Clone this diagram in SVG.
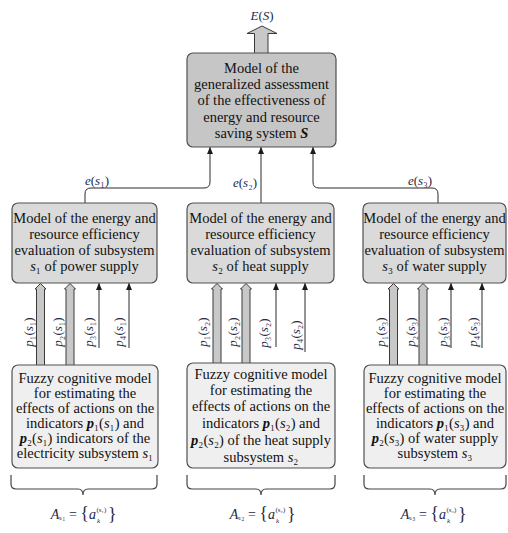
<svg xmlns="http://www.w3.org/2000/svg" width="508" height="533" viewBox="0 0 508 533">
<style>
.box{stroke:#505050;stroke-width:1.2}
.top{fill:#c6c6c6}
.mid{fill:#dadada}
.bot{fill:#efefef}
.t{font-family:"Liberation Serif","Times New Roman",serif;font-size:14.5px;fill:#111;text-anchor:middle}
.m{font-family:"Liberation Serif","Times New Roman",serif;font-size:13px;fill:#1f2a44;text-anchor:middle}
.f{font-family:"Liberation Serif","Times New Roman",serif;font-size:14px;fill:#1f2a44}
.i{font-style:italic}
.b{font-weight:bold}
.ln{fill:none;stroke:#2a2a2a;stroke-width:1}
.hol{fill:#c8c8c8;stroke:#3a3a3a;stroke-width:1}
.br{fill:none;stroke:#444;stroke-width:1.2}
</style>
<defs>
<marker id="ah" markerWidth="8" markerHeight="8" refX="7" refY="4" orient="auto" markerUnits="userSpaceOnUse">
<path d="M0,1 L7,4 L0,7 Z" fill="#1a1a1a"/>
</marker>
</defs>

<g id="connectors">
<path class="hol" d="M254.5,53 V33.5 H247 L262,26 L277,33.5 H268 V53" fill="#d6d6d6"/>
<path class="ln" marker-end="url(#ah)" d="M85,203 V194 Q85,188 91,188 H204 Q210,188 210,182 V147"/>
<path class="ln" marker-end="url(#ah)" d="M261,203 V147"/>
<path class="ln" marker-end="url(#ah)" d="M438,203 V194 Q438,188 432,188 H319 Q313,188 313,182 V147"/>
<path class="hol" d="M36.5,365 V289 H35 L40.5,283.5 L46,289 H44.5 V365"/>
<path class="hol" d="M66,365 V289 H64.5 L70,283.5 L75.5,289 H74 V365"/>
<path class="ln" marker-end="url(#ah)" d="M99,348 V283"/>
<path class="ln" marker-end="url(#ah)" d="M129,348 V283"/>
<path class="hol" d="M213,363 V289 H211.5 L217,283.5 L222.5,289 H221 V363"/>
<path class="hol" d="M242,363 V289 H240.5 L246,283.5 L251.5,289 H250 V363"/>
<path class="ln" marker-end="url(#ah)" d="M276,347 V283"/>
<path class="ln" marker-end="url(#ah)" d="M305,352 V283"/>
<path class="hol" d="M389.5,365 V289 H388 L393.5,283.5 L399,289 H397.5 V365"/>
<path class="hol" d="M419,365 V289 H417.5 L423,283.5 L428.5,289 H427 V365"/>
<path class="ln" marker-end="url(#ah)" d="M451,348 V283"/>
<path class="ln" marker-end="url(#ah)" d="M482,348 V283"/>
</g>

<g id="labels">
<text class="m" x="262" y="20" font-size="14"><tspan class="i">E</tspan>(<tspan class="i">S</tspan>)</text>
<text class="m" x="97" y="185"><tspan class="i">e</tspan>(<tspan class="i">s</tspan>₁)</text>
<text class="m" x="245" y="187"><tspan class="i">e</tspan>(<tspan class="i">s</tspan>₂)</text>
<text class="m" x="420" y="185"><tspan class="i">e</tspan>(<tspan class="i">s</tspan>₃)</text>

<g class="m">
<text transform="translate(28,332) rotate(-90)" y="4.5"><tspan class="i">p</tspan>₁(<tspan class="i">s</tspan>₁)</text>
<text transform="translate(57,332) rotate(-90)" y="4.5"><tspan class="i">p</tspan>₂(<tspan class="i">s</tspan>₁)</text>
<text transform="translate(88,332) rotate(-90)" y="4.5"><tspan class="i">p</tspan>₃(<tspan class="i">s</tspan>₁)</text>
<text transform="translate(118,332) rotate(-90)" y="4.5"><tspan class="i">p</tspan>₄(<tspan class="i">s</tspan>₁)</text>
<text transform="translate(202,332) rotate(-90)" y="4.5"><tspan class="i">p</tspan>₁(<tspan class="i">s</tspan>₂)</text>
<text transform="translate(232,332) rotate(-90)" y="4.5"><tspan class="i">p</tspan>₂(<tspan class="i">s</tspan>₂)</text>
<text transform="translate(263,333) rotate(-90)" y="4.5"><tspan class="i">p</tspan>₃(<tspan class="i">s</tspan>₂)</text>
<text transform="translate(295,335) rotate(-90)" y="4.5"><tspan class="i">p</tspan>₄(<tspan class="i">s</tspan>₂)</text>
<text transform="translate(380,332) rotate(-90)" y="4.5"><tspan class="i">p</tspan>₁(<tspan class="i">s</tspan>₃)</text>
<text transform="translate(410,332) rotate(-90)" y="4.5"><tspan class="i">p</tspan>₂(<tspan class="i">s</tspan>₃)</text>
<text transform="translate(442,332) rotate(-90)" y="4.5"><tspan class="i">p</tspan>₃(<tspan class="i">s</tspan>₃)</text>
<text transform="translate(472,332) rotate(-90)" y="4.5"><tspan class="i">p</tspan>₄(<tspan class="i">s</tspan>₃)</text>
</g>
</g>

<g id="node-S">
<rect class="box top" x="187" y="53" width="149" height="94" rx="6"/>
<text class="t" x="261.5" y="73">Model of the</text>
<text class="t" x="261.5" y="89">generalized assessment</text>
<text class="t" x="261.5" y="105">of the effectiveness of</text>
<text class="t" x="261.5" y="122">energy and resource</text>
<text class="t" x="261.5" y="138">saving system <tspan class="i b">S</tspan></text>
</g>

<g id="node-s1">
<rect class="box mid" x="12" y="203" width="145" height="80" rx="6"/>
<text class="t" x="84.5" y="223">Model of the energy and</text>
<text class="t" x="84.5" y="239">resource efficiency</text>
<text class="t" x="84.5" y="255">evaluation of subsystem</text>
<text class="t" x="84.5" y="271"><tspan class="i">s</tspan>₁ of power supply</text>
</g>

<g id="node-s2">
<rect class="box mid" x="187" y="203" width="147" height="80" rx="6"/>
<text class="t" x="260.5" y="223">Model of the energy and</text>
<text class="t" x="260.5" y="239">resource efficiency</text>
<text class="t" x="260.5" y="255">evaluation of subsystem</text>
<text class="t" x="260.5" y="271"><tspan class="i">s</tspan>₂ of heat supply</text>
</g>

<g id="node-s3">
<rect class="box mid" x="363" y="203" width="143" height="80" rx="6"/>
<text class="t" x="434.5" y="223">Model of the energy and</text>
<text class="t" x="434.5" y="239">resource efficiency</text>
<text class="t" x="434.5" y="255">evaluation of subsystem</text>
<text class="t" x="434.5" y="271"><tspan class="i">s</tspan>₃ of water supply</text>
</g>

<g id="node-f1">
<rect class="box bot" x="12" y="365" width="146" height="103" rx="6"/>
<text class="t" x="85" y="383">Fuzzy cognitive model</text>
<text class="t" x="85" y="398">for estimating the</text>
<text class="t" x="85" y="413">effects of actions on the</text>
<text class="t" x="85" y="428">indicators <tspan class="i b">p</tspan>₁(<tspan class="i">s</tspan>₁)  and</text>
<text class="t" x="85" y="443"><tspan class="i b">p</tspan>₂(<tspan class="i">s</tspan>₁) indicators of the</text>
<text class="t" x="85" y="458">electricity subsystem <tspan class="i">s</tspan>₁</text>
</g>

<g id="node-f2">
<rect class="box bot" x="187" y="363" width="148" height="105" rx="6"/>
<text class="t" x="261" y="379">Fuzzy cognitive model</text>
<text class="t" x="261" y="395">for estimating the</text>
<text class="t" x="261" y="411">effects of actions on the</text>
<text class="t" x="261" y="428">indicators <tspan class="i b">p</tspan>₁(<tspan class="i">s</tspan>₂) and</text>
<text class="t" x="261" y="445"><tspan class="i b">p</tspan>₂(<tspan class="i">s</tspan>₂) of the heat supply</text>
<text class="t" x="261" y="462">subsystem <tspan class="i">s</tspan>₂</text>
</g>

<g id="node-f3">
<rect class="box bot" x="364" y="365" width="142" height="103" rx="6"/>
<text class="t" x="435" y="383">Fuzzy cognitive model</text>
<text class="t" x="435" y="398">for estimating the</text>
<text class="t" x="435" y="413">effects of actions on the</text>
<text class="t" x="435" y="428">indicators <tspan class="i b">p</tspan>₁(<tspan class="i">s</tspan>₃) and</text>
<text class="t" x="435" y="443"><tspan class="i b">p</tspan>₂(<tspan class="i">s</tspan>₃) of water supply</text>
<text class="t" x="435" y="458">subsystem <tspan class="i">s</tspan>₃</text>
</g>

<g id="braces">
<path class="br" d="M11,475 V484 Q11,489 16,489 H78 Q83,489 83,495 Q83,489 88,489 H152 Q157,489 157,484 V475"/>
<path class="br" d="M187,475 V484 Q187,489 192,489 H256 Q261,489 261,495 Q261,489 266,489 H330 Q335,489 335,484 V475"/>
<path class="br" d="M364,475 V484 Q364,489 369,489 H430 Q435,489 435,495 Q435,489 440,489 H501 Q506,489 506,484 V475"/>
</g>

<g id="sets" class="f">
<text x="96" y="519" text-anchor="end"><tspan class="i">A</tspan><tspan font-size="9">ₛ₁</tspan> = <tspan font-size="18">{</tspan><tspan class="i">a</tspan></text>
<text x="96.5" y="512" font-size="7">(s₁)</text>
<text x="97" y="523" font-size="7" class="i">k</text>
<text x="108" y="520" font-size="18">}</text>

<text x="275" y="519" text-anchor="end"><tspan class="i">A</tspan><tspan font-size="9">ₛ₂</tspan> = <tspan font-size="18">{</tspan><tspan class="i">a</tspan></text>
<text x="275.5" y="512" font-size="7">(s₂)</text>
<text x="276" y="523" font-size="7" class="i">k</text>
<text x="287" y="520" font-size="18">}</text>

<text x="446" y="519" text-anchor="end"><tspan class="i">A</tspan><tspan font-size="9">ₛ₃</tspan> = <tspan font-size="18">{</tspan><tspan class="i">a</tspan></text>
<text x="446.5" y="512" font-size="7">(s₃)</text>
<text x="447" y="523" font-size="7" class="i">k</text>
<text x="458" y="520" font-size="18">}</text>
</g>
</svg>
